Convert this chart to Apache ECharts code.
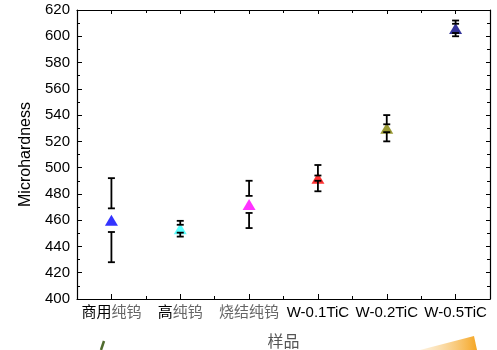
<!DOCTYPE html>
<html>
<head>
<meta charset="utf-8">
<style>
  html, body { margin: 0; padding: 0; background: #fff; }
  #chart { width: 497px; height: 350px; }
</style>
<script src="https://cdn.jsdelivr.net/npm/echarts@6/dist/echarts.min.js"></script>
</head>
<body>
<div id="chart"></div>
<script>
// Sample names along the x axis
const samples = ['商用纯钨', '高纯钨', '烧结纯钨', 'W-0.1TiC', 'W-0.2TiC', 'W-0.5TiC'];
// Mean microhardness of each sample
const hardness = [460, 453.5, 472, 492, 530, 606];
// Outer error (full range half-width) for each sample
const errOuter = [32, 6, 18, 10, 10, 6];
// Inner error (standard deviation) for each sample
const errInner = [9, 3, 6.5, 2, 3, 3.5];
// Marker colour of each sample
const markerColors = ['#0000ff', '#33ffff', '#ff00ff', '#ff0000', '#808000', '#000080'];
// Y axis range and step
const yMin = 400, yMax = 620, yStep = 20;

// Part of each label that is printed in dark ink; the rest is grey
const darkPrefix = { '商用纯钨': '商用', '高纯钨': '高' };

const FONT = '"Liberation Sans", Arial, "Noto Sans CJK SC", sans-serif';

const chart = echarts.init(document.getElementById('chart'), null, { renderer: 'canvas' });

function labelFormatter(v) {
  if (/^W-/.test(v)) return '{k|' + v + '}';
  const p = darkPrefix[v] || '';
  const rest = v.slice(p.length);
  return (p ? '{k|' + p + '}' : '') + (rest ? '{g|' + rest + '}' : '');
}

function catAxis(pos, showLabel, align, len, showLine) {
  return {
    type: 'category',
    data: samples,
    position: pos,
    boundaryGap: true,
    axisLine: { show: showLine, lineStyle: { color: '#000', width: 1.2 } },
    axisTick: { show: true, inside: true, alignWithLabel: align, length: len, lineStyle: { color: '#000', width: 1 } },
    axisLabel: showLabel ? {
      show: true, margin: 6, interval: 0,
      formatter: labelFormatter,
      rich: {
        k: { fontFamily: FONT, fontSize: 15, color: '#000' },
        g: { fontFamily: FONT, fontSize: 15, color: '#666' }
      }
    } : { show: false },
    splitLine: { show: false }
  };
}

const points = hardness.map((v, i) => ({
  value: [i, v],
  itemStyle: { color: markerColors[i] }
}));
const bars = hardness.map((v, i) => [i, v, errOuter[i], errInner[i]]);

const option = {
  animation: false,
  backgroundColor: '#fff',
  grid: { left: 77, right: 7, top: 10, bottom: 51, containLabel: false, outerBoundsMode: 'none' },
  xAxis: [
    Object.assign(catAxis('bottom', true, true, 5, true), {
      name: '样品', nameLocation: 'middle', nameGap: 36,
      nameTextStyle: { fontFamily: FONT, fontSize: 16, color: '#555' }
    }),
    catAxis('bottom', false, false, 3, false),
    catAxis('top', false, true, 4, true),
    catAxis('top', false, false, 3, false)
  ],
  yAxis: [
    {
      type: 'value', min: yMin, max: yMax, interval: yStep,
      position: 'left',
      name: 'Microhardness', nameLocation: 'middle', nameGap: 39,
      nameTextStyle: { fontFamily: FONT, fontSize: 16, color: '#000' },
      axisLine: { show: true, lineStyle: { color: '#000', width: 1.2 } },
      axisTick: { show: true, inside: true, length: 5, lineStyle: { color: '#000' } },
      minorTick: { show: true, splitNumber: 2, length: 3, lineStyle: { color: '#000' } },
      axisLabel: { fontFamily: FONT, fontSize: 15, color: '#000', margin: 7 },
      splitLine: { show: false }
    },
    {
      type: 'value', min: yMin, max: yMax, interval: yStep,
      position: 'right',
      axisLine: { show: true, lineStyle: { color: '#000', width: 1.2 } },
      axisTick: { show: true, inside: true, length: 4, lineStyle: { color: '#000' } },
      minorTick: { show: true, splitNumber: 2, length: 3, lineStyle: { color: '#000' } },
      axisLabel: { show: false },
      splitLine: { show: false }
    }
  ],
  series: [
    {
      type: 'scatter',
      xAxisIndex: 0, yAxisIndex: 0,
      symbol: 'triangle',
      symbolSize: [13, 11],
      data: points,
      z: 2
    },
    {
      type: 'custom',
      xAxisIndex: 0, yAxisIndex: 0,
      z: 3,
      data: bars,
      renderItem: function (params, api) {
        const i = api.value(0), m = api.value(1), eo = api.value(2), ei = api.value(3);
        const top = api.coord([i, m + eo]);
        const bot = api.coord([i, m - eo]);
        const inTop = api.coord([i, m + ei]);
        const inBot = api.coord([i, m - ei]);
        const x = top[0];
        const hw = 3.5;
        const st = { stroke: '#000', lineWidth: 1.8, fill: null };
        const cap = (y) => ({ type: 'line', shape: { x1: x - hw, y1: y, x2: x + hw, y2: y }, style: st });
        return {
          type: 'group',
          children: [
            { type: 'line', shape: { x1: x, y1: top[1], x2: x, y2: inTop[1] }, style: st },
            { type: 'line', shape: { x1: x, y1: inBot[1], x2: x, y2: bot[1] }, style: st },
            cap(top[1]), cap(bot[1]), cap(inTop[1]), cap(inBot[1])
          ]
        };
      }
    }
  ],
  graphic: [
    {
      type: 'line', silent: true,
      shape: { x1: 101, y1: 350, x2: 104, y2: 341 },
      style: { stroke: '#4f6b2e', lineWidth: 2.5 }
    },
    {
      type: 'polygon', silent: true,
      shape: { points: [[420, 350], [474, 336], [477, 350]] },
      style: {
        fill: new echarts.graphic.LinearGradient(0, 0, 1, 0, [
          { offset: 0, color: 'rgba(250,220,170,0.4)' },
          { offset: 1, color: '#f5a623' }
        ])
      }
    }
  ]
};

chart.setOption(option);
</script>
</body>
</html>
